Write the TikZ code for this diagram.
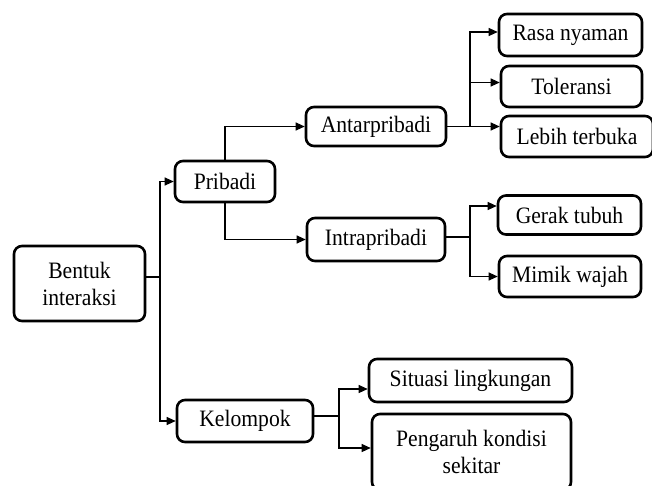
\documentclass[tikz,border=0pt]{standalone}
\usepackage{fontspec}
\setmainfont{Liberation Serif}[FakeStretch=0.92]
\usetikzlibrary{arrows.meta}
\begin{document}
\begin{tikzpicture}[x=1pt,y=-1pt,
  box/.style={draw, line width=2.6pt, rounded corners=8pt, inner sep=0pt,
    font=\fontsize{23.5}{27}\selectfont, align=center},
  conn/.style={line width=1.1pt},
  arr/.style={conn, -{Triangle[length=9pt,width=8pt]}}]
\useasboundingbox (0,0) rectangle (652,485);

\node[box, minimum width=131pt, minimum height=75pt] (bentuk) at (79.5,283.5) {Bentuk\\interaksi};
\node[box, minimum width=100pt, minimum height=41pt] (pribadi) at (225,181.5) {Pribadi};
\node[box, minimum width=136pt, minimum height=42pt] (kelompok) at (245,421) {Kelompok};
\node[box, minimum width=140pt, minimum height=39pt] (antar) at (376,126.5) {Antarpribadi};
\node[box, minimum width=138pt, minimum height=43pt] (intra) at (376,239.5) {Intrapribadi};
\node[box, minimum width=143pt, minimum height=42pt] (rasa) at (570.5,35) {Rasa nyaman};
\node[box, minimum width=141pt, minimum height=41pt] (tol) at (571.5,86.5) {Toleransi};
\node[box, minimum width=152pt, minimum height=41pt] (lebih) at (577,136.5) {Lebih terbuka};
\node[box, minimum width=143pt, minimum height=39pt] (gerak) at (569.5,215) {Gerak tubuh};
\node[box, minimum width=142pt, minimum height=41pt] (mimik) at (570,276.5) {Mimik wajah};
\node[box, minimum width=203pt, minimum height=43pt] (situasi) at (470.5,380.5) {Situasi lingkungan};
\node[box, minimum width=199pt, minimum height=76pt] (pengaruh) at (471.5,452) {Pengaruh kondisi\\sekitar};

\coordinate (t1) at (160,277);
\draw[conn] (bentuk.east |- t1) -- (t1);
\draw[arr] (t1) |- (pribadi.west);
\draw[arr] (t1) |- (kelompok.west);

\draw[arr] (pribadi.north) |- (antar.west);
\draw[arr] (pribadi.south) |- (intra.west);

\coordinate (ja) at (470,126.5);
\draw[arr] (antar.east) -- (lebih.west |- ja);
\draw[arr] (ja) |- ([yshift=3pt]rasa.west);
\draw[arr] (ja) |- ([yshift=4pt]tol.west);

\coordinate (jb) at (470,237);
\draw[conn] (intra.east |- jb) -- (jb);
\draw[arr] (jb) |- ([yshift=9pt]gerak.west);
\draw[arr] (jb) |- (mimik.west);

\coordinate (jc) at (339,416);
\draw[conn] (kelompok.east |- jc) -- (jc);
\draw[arr] (jc) |- ([yshift=-8.5pt]situasi.west);
\draw[arr] (jc) |- ([yshift=4pt]pengaruh.west);
\end{tikzpicture}
\end{document}
